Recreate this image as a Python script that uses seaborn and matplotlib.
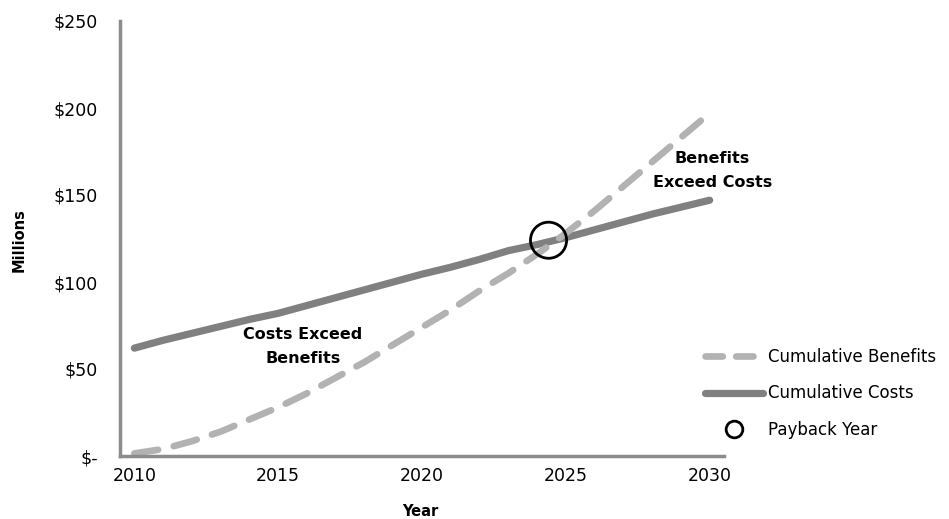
import matplotlib
matplotlib.use("Agg")
import matplotlib.pyplot as plt
import seaborn as sns
import pandas as pd
from matplotlib.lines import Line2D

years = list(range(2010, 2031))
benefits = [1.5, 4, 8.5, 14, 21, 28, 36, 45, 54, 64, 74, 84, 95, 105, 116, 128, 141, 155, 169, 183, 197]
costs = [62, 66.5, 70.5, 74.5, 78.5, 82, 86.5, 91, 95.5, 100, 104.5, 108.5, 113, 118, 121.5, 125.5, 130, 134.5, 139, 143, 147]
payback_year = [2024.4]
payback_value = [124]
y_ticks = [0, 50, 100, 150, 200, 250]
y_labels = ["$-", "$50", "$100", "$150", "$200", "$250"]
x_label_years = [2010, 2015, 2020, 2025, 2030]

df = pd.DataFrame({"Year": years, "Cumulative Benefits": benefits, "Cumulative Costs": costs})

sns.set_style("white")
plt.rcParams['font.family'] = ['DejaVu Sans']
plt.rcParams['text.color'] = 'black'
plt.rcParams['xtick.labelcolor'] = 'black'
plt.rcParams['ytick.labelcolor'] = 'black'

fig = plt.figure(figsize=(9.49, 5.19), dpi=100)
ax = fig.add_axes([120/949, 1-456/519, (724-120)/949, (456-21)/519])

grey_axis = "#8c8c8c"
c_cost = "#808080"
c_ben = "#b2b2b2"

sns.lineplot(data=df, x="Year", y="Cumulative Costs", ax=ax, color=c_cost, linewidth=5.2,
             solid_capstyle="round", label="Cumulative Costs")
sns.lineplot(data=df, x="Year", y="Cumulative Benefits", ax=ax, color=c_ben, linewidth=4.8,
             dashes=False, label="Cumulative Benefits")
ben_line = ax.lines[-1]
ben_line.set_dashes([3.6, 2.4])
ben_line.set_dash_capstyle("round")

sns.scatterplot(x=payback_year, y=payback_value, ax=ax, s=26**2, facecolor="none",
                edgecolor="black", linewidth=2.0, zorder=5)

ax.set_xlim(2009.5, 2030.5)
ax.set_ylim(0, 250)

# major ticks at category boundaries, labels at category centers
ax.set_xticks([2009.5, 2014.5, 2019.5, 2024.5, 2029.5])
ax.set_xticklabels([])
ax.set_xticks(x_label_years, minor=True)
ax.set_xticklabels([str(y) for y in x_label_years], minor=True, fontsize=12.5)
ax.tick_params(axis="x", which="minor", length=0, pad=8)
ax.tick_params(axis="x", which="major", length=6, width=2, color=grey_axis, direction="out")

ax.set_yticks(y_ticks)
ax.set_yticklabels(y_labels, fontsize=12.5)
ax.tick_params(axis="y", length=6, width=2, color=grey_axis, direction="out", pad=10)

for s in ["top", "right"]:
    ax.spines[s].set_visible(False)
for s in ["left", "bottom"]:
    ax.spines[s].set_color(grey_axis)
    ax.spines[s].set_linewidth(2.5)

ax.set_xlabel("")
ax.set_ylabel("")
fig.text(420/949, 1-511/519, "Year", ha="center", va="center", fontsize=10.5, fontweight="bold")
fig.text(19/949, 1-240/519, "Millions", ha="center", va="center", rotation=90, fontsize=10.5, fontweight="bold")

ax.text(2015.85, 63, "Costs Exceed\nBenefits", ha="center", va="center", fontsize=11.5,
        fontweight="bold", linespacing=1.8)
ax.text(2030.1, 164, "Benefits\nExceed Costs", ha="center", va="center", fontsize=11.5,
        fontweight="bold", linespacing=1.8)

handles = [
    Line2D([0], [0], color=c_ben, linewidth=4.8, dashes=[2.6, 2.0], dash_capstyle="round"),
    Line2D([0], [0], color=c_cost, linewidth=5.2, solid_capstyle="round"),
    Line2D([0], [0], marker="o", linestyle="none", markersize=12, markerfacecolor="none",
           markeredgecolor="black", markeredgewidth=2.0),
]
labels = ["Cumulative Benefits", "Cumulative Costs", "Payback Year"]
leg = ax.legend(handles, labels, loc="upper left", bbox_to_anchor=(705/949, 1-348/519),
                bbox_transform=fig.transFigure, frameon=False, fontsize=12,
                handlelength=3.5, handletextpad=0.3, labelspacing=1.1, borderaxespad=0,
                borderpad=0)

fig.savefig("out.png", dpi=100)
